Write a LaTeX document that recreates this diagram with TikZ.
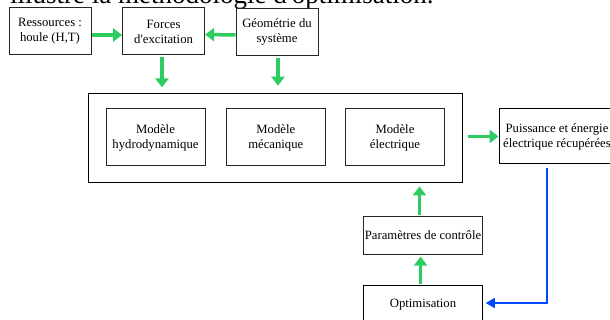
\documentclass[tikz,border=0pt]{standalone}
\usepackage{fontspec}
\setmainfont{Liberation Serif}
\usetikzlibrary{arrows.meta}
\definecolor{arrgreen}{RGB}{46,204,96}
\definecolor{arrblue}{RGB}{0,72,255}
\begin{document}
\begin{tikzpicture}[x=1pt,y=-1pt,
 box/.style={draw=black!85, line width=1pt, inner sep=0pt, align=center, font=\fontsize{12.7}{15}\selectfont},
 garrow/.style={draw=arrgreen, line width=3.5pt, -{Triangle[length=9pt,width=13pt]}},
 barrow/.style={draw=arrblue, line width=1.6pt, -{Triangle[length=9pt,width=10pt]}}]
\useasboundingbox (0,0) rectangle (610,320);
\begin{scope}
\clip (0,0) rectangle (610,320);
\node[anchor=base west, inner sep=0pt, font=\fontsize{27}{30}\selectfont] (title) at (10,4) {illustre la méthodologie d\textquotesingle optimisation.};
\end{scope}
\node[box, minimum width=82pt, minimum height=47pt] (res) at (50,31.5) {Ressources :\\houle (H,T)};
\node[box, minimum width=82pt, minimum height=47pt] (forces) at (163.6,31.5) {Forces\\d\textquotesingle excitation};
\node[box, minimum width=82pt, minimum height=47pt] (geo) at (277,32) {Géométrie du\\système};
\node[box, draw=black, minimum width=374pt, minimum height=89pt] (big) at (275,138.4) {};
\node[box, minimum width=99pt, minimum height=57pt] (hydro) at (155.5,137.5) {Modèle\\hydrodynamique};
\node[box, minimum width=98.5pt, minimum height=57pt] (meca) at (275.8,137.5) {Modèle\\mécanique};
\node[box, minimum width=99pt, minimum height=57pt] (elec) at (395,137.5) {Modèle\\électrique};
\node[box, draw=black, minimum width=116pt, minimum height=55pt] (puis) at (557,136.5) {Puissance et énergie\\électrique récupérées};
\node[box, minimum width=118.5pt, minimum height=37.5pt] (param) at (423,235.4) {Paramètres de contrôle};
\node[box, draw=black, minimum width=118.5pt, minimum height=37.5pt] (opti) at (423,304.4) {Optimisation};
\draw[garrow] ([yshift=-3.5pt]res.east) -- ([yshift=-3.5pt]forces.west);
\draw[garrow] ([yshift=-3pt]geo.west) -- ([yshift=-3pt]forces.east);
\draw[garrow, shorten <=2pt, shorten >=6pt] ([xshift=-1.6pt]forces.south) -- ([xshift=-1.6pt]forces.south |- big.north);
\draw[garrow, shorten <=2pt, shorten >=7.7pt] ([xshift=1pt]geo.south) -- ([xshift=1pt]geo.south |- big.north);
\draw[garrow, shorten <=5pt] (big.east |- puis.west) -- (puis.west);
\draw[garrow, shorten <=1pt, shorten >=3pt] ([xshift=-3.5pt]param.north) -- ([xshift=-3.5pt]param.north |- big.south);
\draw[garrow, shorten <=1pt, shorten >=2pt] ([xshift=-2.4pt]opti.north) -- ([xshift=-2.4pt]param.south);
\draw[barrow, shorten <=4pt, shorten >=3pt] ([xshift=-10pt]puis.south) |- ([yshift=1.4pt]opti.east);
\end{tikzpicture}
\end{document}
